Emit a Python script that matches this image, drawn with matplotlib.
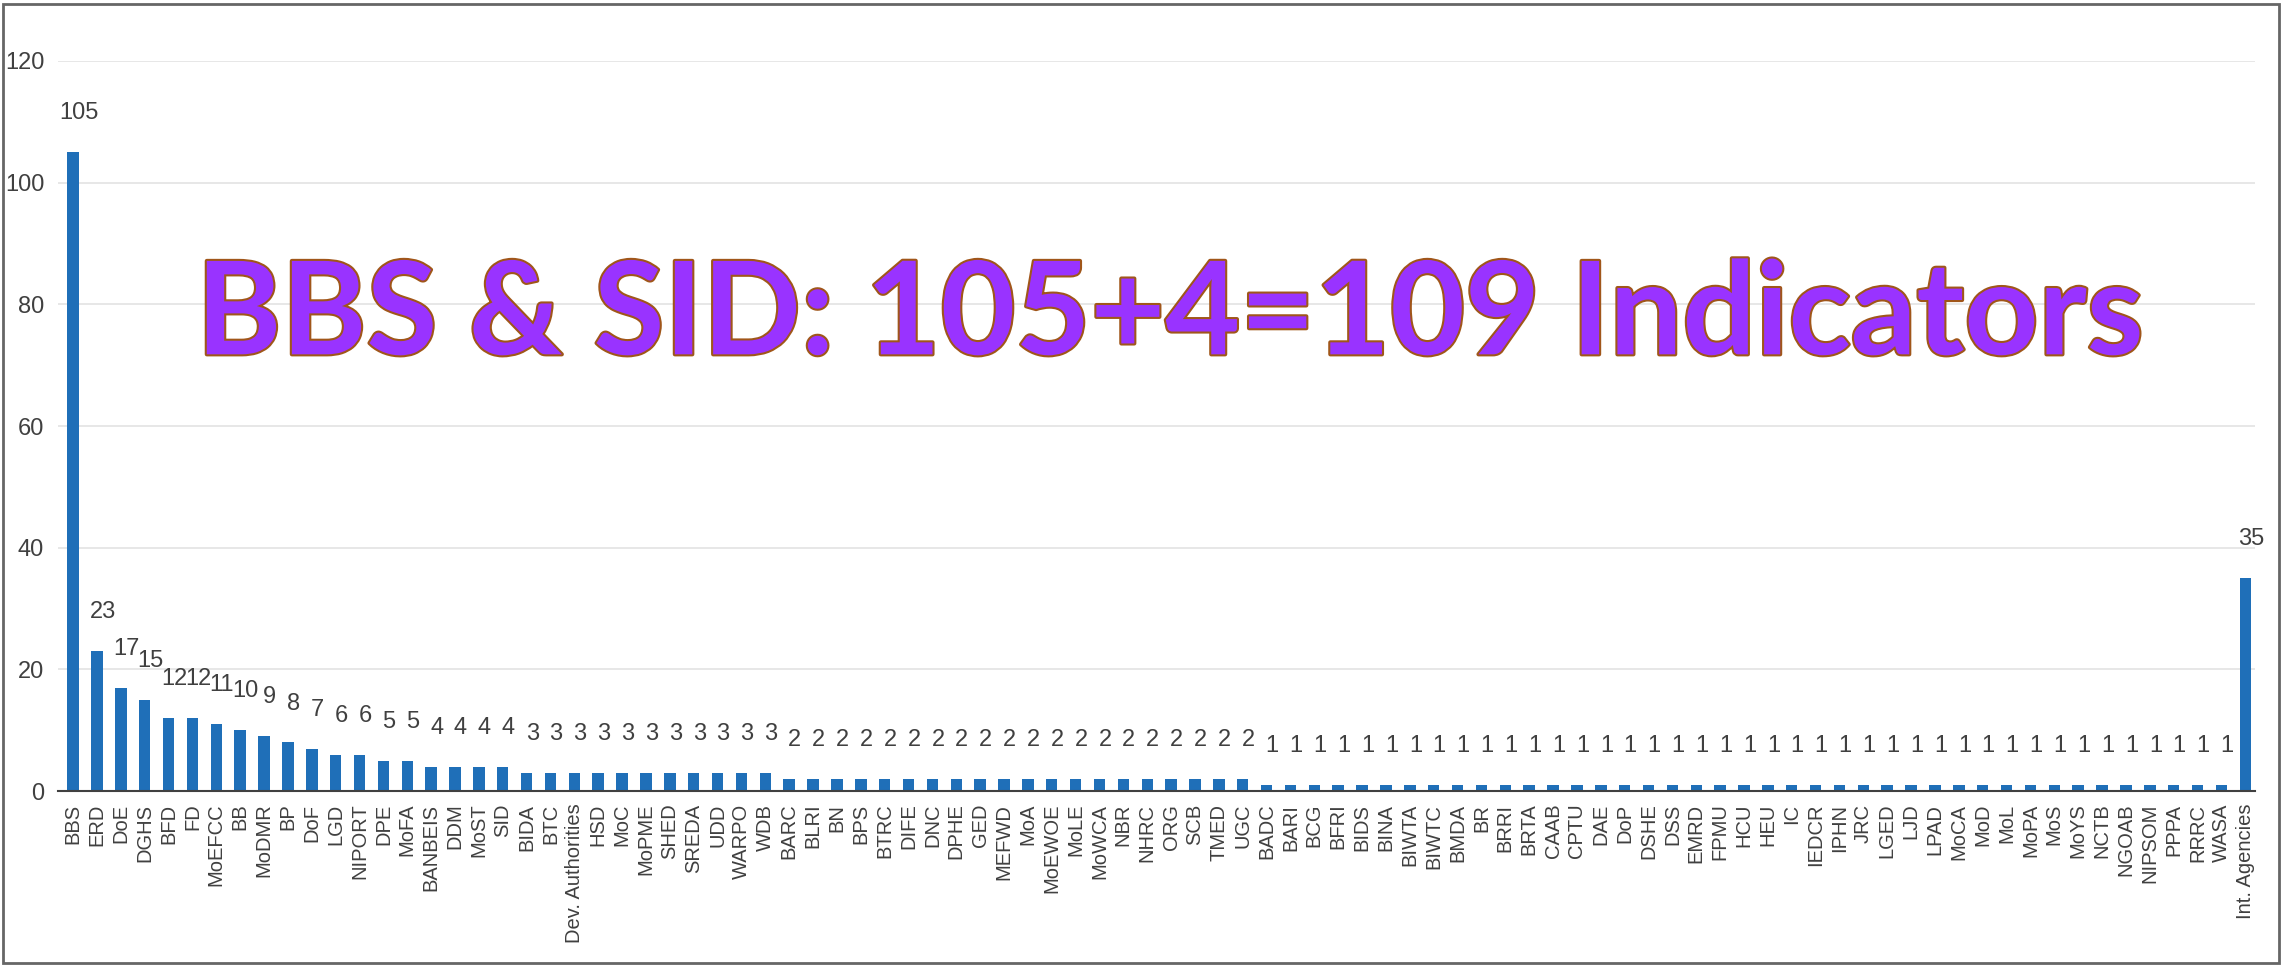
import matplotlib
matplotlib.use('Agg')
import matplotlib.pyplot as plt
import matplotlib.patheffects as pe
import numpy as np

plt.rcParams['font.family'] = ['Liberation Sans', 'DejaVu Sans']

# 기관별 지표 수
agencies = [
    'BBS', 'ERD', 'DoE', 'DGHS', 'BFD', 'FD', 'MoEFCC', 'BB', 'MoDMR', 'BP',
    'DoF', 'LGD', 'NIPORT', 'DPE', 'MoFA', 'BANBEIS', 'DDM', 'MoST', 'SID',
    'BIDA', 'BTC', 'Dev. Authorities', 'HSD', 'MoC', 'MoPME', 'SHED', 'SREDA',
    'UDD', 'WARPO', 'WDB',
    'BARC', 'BLRI', 'BN', 'BPS', 'BTRC', 'DIFE', 'DNC', 'DPHE', 'GED', 'MEFWD',
    'MoA', 'MoEWOE', 'MoLE', 'MoWCA', 'NBR', 'NHRC', 'ORG', 'SCB', 'TMED', 'UGC',
    'BADC', 'BARI', 'BCG', 'BFRI', 'BIDS', 'BINA', 'BIWTA', 'BIWTC', 'BMDA', 'BR',
    'BRRI', 'BRTA', 'CAAB', 'CPTU', 'DAE', 'DoP', 'DSHE', 'DSS', 'EMRD', 'FPMU',
    'HCU', 'HEU', 'IC', 'IEDCR', 'IPHN', 'JRC', 'LGED', 'LJD', 'LPAD', 'MoCA',
    'MoD', 'MoL', 'MoPA', 'MoS', 'MoYS', 'NCTB', 'NGOAB', 'NIPSOM', 'PPPA', 'RRRC',
    'WASA', 'Int. Agencies',
]
counts = [
    105, 23, 17, 15, 12, 12, 11, 10, 9, 8,
    7, 6, 6, 5, 5, 4, 4, 4, 4,
    3, 3, 3, 3, 3, 3, 3, 3,
    3, 3, 3,
    2, 2, 2, 2, 2, 2, 2, 2, 2, 2,
    2, 2, 2, 2, 2, 2, 2, 2, 2, 2,
    1, 1, 1, 1, 1, 1, 1, 1, 1, 1,
    1, 1, 1, 1, 1, 1, 1, 1, 1, 1,
    1, 1, 1, 1, 1, 1, 1, 1, 1, 1,
    1, 1, 1, 1, 1, 1, 1, 1, 1, 1,
    1, 35,
]
y_ticks = [0, 20, 40, 60, 80, 100, 120]
headline = 'BBS & SID: 105+4=109 Indicators'

fig = plt.figure(figsize=(22.85, 9.66), dpi=100)
fig.patch.set_facecolor('white')
ax = fig.add_axes([0.0254, 0.181, 0.9616, 0.756])

x = np.arange(len(agencies))
ax.bar(x, counts, width=0.48, color='#1f6fb8', zorder=2)

for xi, v in zip(x, counts):
    ax.annotate(str(v), (xi, v), xytext=(4, 28), textcoords='offset points',
                ha='center', va='center', fontsize=17, color='#404040')

ax.set_xlim(-0.63, len(agencies) - 0.58)
ax.set_ylim(0, 120)
ax.set_yticks(y_ticks)
ax.set_xticks(x)
ax.set_xticklabels(agencies, rotation=90, fontsize=14.5, color='#404040')
ax.tick_params(axis='y', labelsize=17, labelcolor='#404040', length=0, pad=10)
ax.tick_params(axis='x', length=0, pad=9)
ax.grid(axis='y', color='#e3e3e3', linewidth=1.2, zorder=0)
for side in ['top', 'right', 'left']:
    ax.spines[side].set_visible(False)
ax.spines['bottom'].set_color('#404040')
ax.spines['bottom'].set_linewidth(1.5)

# 큰 제목 (보라색 + 갈색 외곽선)
fig.text(0.512, 0.671, headline, family=['Lato', 'DejaVu Sans'], fontweight='bold',
         fontsize=93, color='#9933ff', ha='center', va='center',
         path_effects=[pe.Stroke(linewidth=3, foreground='#a0561a'), pe.Normal()])

# 바깥 테두리
fig.patches.append(plt.Rectangle((0.0015, 0.003), 0.996, 0.993, transform=fig.transFigure,
                                 fill=False, edgecolor='#666666', linewidth=2))

plt.savefig('out.png', dpi=100)
